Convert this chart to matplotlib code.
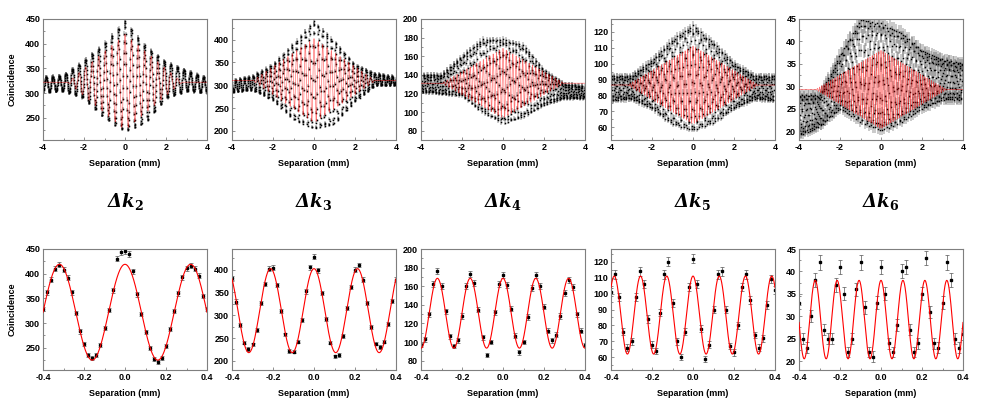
import numpy as np
import matplotlib
matplotlib.use('Agg')
import matplotlib.pyplot as plt
from matplotlib.ticker import MultipleLocator, FormatStrFormatter

plt.rcParams['font.family'] = ['Liberation Sans', 'DejaVu Sans']
plt.rcParams['font.weight'] = 'bold'
plt.rcParams['axes.unicode_minus'] = False
plt.rcParams['mathtext.fontset'] = 'dejavuserif'

subs = ['2', '3', '4', '5', '6']

# fitted fringe parameters
fit_base = [322, 310, 131, 86.5, 29.25]
fit_amp = [97, 92, 37.5, 24.5, 8.75]
fit_period = [0.32, 0.212, 0.16, 0.128, 0.107]
fit_halfwidth = [2.8, 3.0, 3.0, 3.2, 3.2]

ylims = [(205, 450), (180, 445), (70, 200), (52, 128), (18, 45)]
ystep = [50, 50, 20, 10, 5]

# top row: upper / lower edge of the black data band at these separations
knot_x = [-4, -3, -2, -1, 0, 1, 2, 3, 4]
hi_k2 = [332, 335, 365, 400, 445, 395, 362, 345, 330]
lo_k2 = [302, 305, 290, 250, 222, 240, 290, 305, 300]
hi_k3 = [310, 320, 345, 390, 440, 395, 345, 325, 318]
lo_k3 = [285, 290, 268, 225, 205, 215, 265, 300, 300]
hi_k4 = [140, 140, 160, 178, 178, 172, 145, 130, 128]
lo_k4 = [122, 120, 118, 100, 88, 95, 108, 115, 115]
hi_k5 = [92, 92, 102, 115, 124, 113, 100, 92, 92]
lo_k5 = [77, 78, 72, 62, 58, 63, 72, 78, 77]
hi_k6 = [28, 28, 37, 45, 44, 42, 38, 36, 35]
lo_k6 = [19, 21, 25, 22, 20, 22, 25, 27, 27]
band_hi = [hi_k2, hi_k3, hi_k4, hi_k5, hi_k6]
band_lo = [lo_k2, lo_k3, lo_k4, lo_k5, lo_k6]

# bottom row: measured points from -0.4 to 0.4 mm, step 0.02 mm
zoom_x = np.round(np.arange(-0.4, 0.4001, 0.02), 3)
pts_k2 = [328, 362, 388, 410, 418, 408, 392, 362, 320, 283, 258, 236, 229, 236,
          255, 290, 326, 366, 430, 444, 446, 440, 405, 358, 318, 282, 249, 228,
          221, 230, 254, 288, 325, 360, 393, 411, 416, 410, 396, 355, 328]
pts_k3 = [382, 330, 278, 240, 226, 236, 268, 327, 368, 402, 404, 366, 310, 258,
          222, 220, 242, 290, 352, 405, 428, 398, 348, 292, 240, 210, 213, 255,
          315, 362, 400, 410, 378, 326, 275, 238, 230, 242, 280, 332, 378]
pts_k4 = [97, 103, 130, 162, 176, 160, 133, 106, 96, 102, 128, 160, 173, 163,
          135, 105, 86, 100, 132, 162, 172, 161, 136, 107, 89, 100, 127, 158,
          172, 160, 138, 112, 102, 108, 128, 153, 167, 159, 130, 112, 97]
pts_k5 = [101, 112, 98, 76, 66, 70, 98, 114, 106, 84, 68, 64, 88, 112, 120,
          94, 70, 60, 76, 104, 122, 106, 78, 59, 68, 90, 112, 114, 90, 67, 63,
          80, 104, 112, 96, 74, 66, 72, 93, 109, 102]
pts_k6 = [33, 25, 23, 30, 38, 42, 27, 25, 25, 37, 41, 35, 22, 25, 36, 42, 32,
          22, 21, 33, 41, 35, 24, 22, 28, 40, 41, 27, 22, 24, 35, 43, 31, 24,
          23, 33, 42, 38, 25, 23, 26]
zoom_pts = [pts_k2, pts_k3, pts_k4, pts_k5, pts_k6]

W, H = 997, 398
fig = plt.figure(figsize=(W / 100, H / 100), dpi=100)

lefts = [43, 232, 421, 611, 799]
ax_w, ax_h = 164, 121
top_y, bot_y = 19, 249
frame = '#7f7f7f'


def style(ax, i, xmaj, xmin, fmt):
    ax.set_ylim(*ylims[i])
    ax.yaxis.set_major_locator(MultipleLocator(ystep[i]))
    ax.yaxis.set_minor_locator(MultipleLocator(ystep[i] / 2))
    ax.xaxis.set_major_locator(MultipleLocator(xmaj))
    ax.xaxis.set_minor_locator(MultipleLocator(xmin))
    ax.xaxis.set_major_formatter(FormatStrFormatter(fmt))
    for s in ax.spines.values():
        s.set_color(frame)
        s.set_linewidth(0.8)
    ax.tick_params(which='both', direction='in', color=frame, width=0.6,
                   labelsize=6.5, pad=2)
    ax.tick_params(which='major', length=2.5)
    ax.tick_params(which='minor', length=1.5)
    for t in ax.get_xticklabels() + ax.get_yticklabels():
        t.set_fontweight('bold')
    ax.set_xlabel('Separation (mm)', fontsize=6.5, fontweight='bold', labelpad=5)
    if i == 0:
        ax.set_ylabel('Coincidence', fontsize=6.5, fontweight='bold', labelpad=6)


# scan grid of the long measurement (step not a multiple of the fringe period)
x_top = np.arange(-4, 4.0001, 0.0113)
x_fit_top = np.linspace(-4, 4, 6000)
x_fit_bot = np.linspace(-0.4, 0.4, 800)

for i in range(5):
    # top row: full scan
    ax = fig.add_axes([lefts[i] / W, 1 - (top_y + ax_h) / H, ax_w / W, ax_h / H])
    hi = np.array(band_hi[i], dtype=float)
    lo = np.array(band_lo[i], dtype=float)
    mid = np.interp(x_top, knot_x, (hi + lo) / 2)
    half = np.interp(x_top, knot_x, (hi - lo) / 2)
    y_top = mid + half * np.cos(2 * np.pi * x_top / fit_period[i])
    ax.errorbar(x_top, y_top, yerr=np.sqrt(y_top) / 4, fmt='s', ms=1.1,
                mew=0, color='black', ecolor='#2a2a2a', elinewidth=0.35,
                capsize=0.8, capthick=0.35, zorder=2)
    env = np.clip(1 - np.abs(x_fit_top) / fit_halfwidth[i], 0, None)
    y_fit = fit_base[i] + fit_amp[i] * env * np.cos(2 * np.pi * x_fit_top / fit_period[i])
    ax.plot(x_fit_top, y_fit, color='red', lw=0.5, alpha=0.55, zorder=3)
    ax.set_xlim(-4, 4)
    style(ax, i, 2, 1, '%d')

    # bottom row: zoom on the centre
    ax = fig.add_axes([lefts[i] / W, 1 - (bot_y + ax_h) / H, ax_w / W, ax_h / H])
    y_pts = np.array(zoom_pts[i], dtype=float)
    ax.errorbar(zoom_x, y_pts, yerr=np.sqrt(y_pts) / 4, fmt='s', ms=1.8,
                color='black', ecolor='#555555', elinewidth=0.5, capsize=1.2,
                capthick=0.5, zorder=2)
    y_fit = fit_base[i] + fit_amp[i] * np.cos(2 * np.pi * x_fit_bot / fit_period[i])
    ax.plot(x_fit_bot, y_fit, color='red', lw=0.8, zorder=3)
    ax.set_xlim(-0.4, 0.4)
    style(ax, i, 0.2, 0.1, '%.1f')

    fig.text((lefts[i] + ax_w / 2) / W, 1 - 202 / H,
             r'$\mathbfit{\Delta k}_{\mathbf{' + subs[i] + '}}$',
             ha='center', va='center', fontsize=13)

fig.savefig('out.png', dpi=100)
